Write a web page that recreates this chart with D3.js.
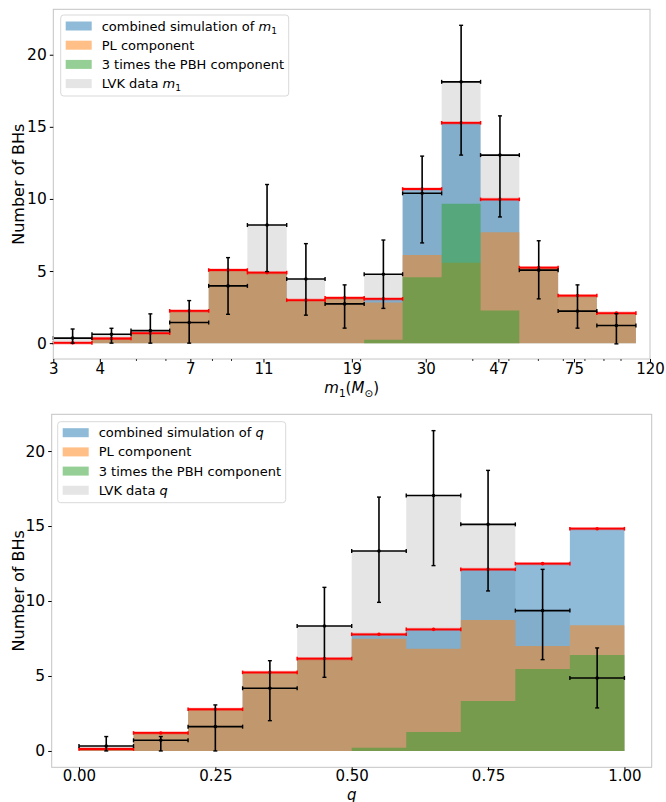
<!DOCTYPE html>
<html>
<head>
<meta charset="utf-8">
<script src="https://cdn.jsdelivr.net/npm/d3@7/dist/d3.min.js"></script>
<style>
  body { margin: 0; background: #fff; }
  svg { font-family: "DejaVu Sans", sans-serif; }
</style>
</head>
<body>
<div id="chart"></div>
<script>
// ---- data ----
// top panel: primary mass m1, log-spaced bins
var m1Edges = [3, 3.81, 4.85, 6.16, 7.84, 9.96, 12.7, 16.1, 20.5, 26.0, 33.1, 42.1, 53.5, 68.0, 86.4, 110];
var m1Ticks = [3, 4, 7, 11, 19, 30, 47, 75, 120];
var m1Minor = [5, 6, 8, 9, 20, 40, 50, 60, 70, 80, 90, 100];
var m1Lvk   = [0.35, 0.62, 0.87, 1.43, 3.97, 8.19, 4.45, 2.72, 4.78, 10.39, 18.12, 13.04, 5.06, 2.22, 1.22];
var m1LvkLo = [0, 0, 0, 0, 2.0, 4.96, 1.94, 1.04, 2.41, 6.95, 13.04, 8.75, 3.07, 1.04, -0.05];
var m1LvkHi = [0.98, 1.03, 2.03, 2.95, 5.93, 11.0, 6.9, 4.04, 7.15, 12.97, 22.04, 15.76, 7.1, 4.04, 2.05];
var m1Comb  = [0.02, 0.32, 0.69, 2.24, 5.07, 4.89, 2.98, 3.14, 3.07, 10.69, 15.28, 9.97, 5.24, 3.3, 2.08];
var m1Pl    = [0.02, 0.32, 0.69, 2.24, 5.07, 4.89, 2.98, 3.14, 2.81, 6.11, 5.58, 7.69, 5.24, 3.3, 2.08];
var m1Pbh3  = [0, 0, 0, 0, 0, 0, 0, 0, 0.23, 4.57, 9.67, 2.26, 0, 0, 0];

// bottom panel: mass ratio q
var qEdges = [0, 0.1, 0.2, 0.3, 0.4, 0.5, 0.6, 0.7, 0.8, 0.9, 1.0];
var qTicks = [0, 0.25, 0.5, 0.75, 1.0];
var qLvk   = [0.33, 0.71, 1.62, 4.18, 8.33, 13.33, 17.04, 15.11, 9.36, 4.87];
var qLvkLo = [0, 0, 0, 2.02, 4.91, 9.91, 12.36, 10.67, 6.09, 2.87];
var qLvkHi = [0.96, 0.96, 3.07, 6.02, 10.91, 16.93, 21.36, 18.71, 12.11, 6.87];
var qComb  = [0.13, 1.2, 2.78, 5.24, 6.16, 7.78, 8.11, 12.11, 12.49, 14.82];
var qPl    = [0.13, 1.2, 2.78, 5.24, 6.16, 7.49, 6.82, 8.73, 7.0, 8.38];
var qPbh3  = [0, 0, 0, 0, 0, 0.22, 1.27, 3.33, 5.47, 6.4];

var yTicks = [0, 5, 10, 15, 20];

// ---- svg ----
var width = 666, height = 802;
var svg = d3.select("#chart").append("svg")
    .attr("width", width)
    .attr("height", height);

function drawPanel(o) {
  var g = svg.append("g");
  var x = o.x, y = o.y;
  var x0 = x.range()[0], x1 = x.range()[1];
  var yb = y.range()[0], yt = y.range()[1];
  var n = o.lvk.length;

  // step areas (one path per series, so adjacent bins have no seams)
  function stepArea(vals) {
    var pts = o.edges.map(function(e, i) { return {x: e, v: vals[Math.min(i, n - 1)]}; });
    return d3.area()
      .x(function(d) { return x(d.x); })
      .y0(y(0))
      .y1(function(d) { return y(d.v); })
      .curve(d3.curveStepAfter)(pts);
  }
  g.append("path").attr("d", stepArea(o.lvk)).attr("fill", "#d3d3d3").attr("fill-opacity", 0.6);
  g.append("path").attr("d", stepArea(o.comb)).attr("fill", "#1f77b4").attr("fill-opacity", 0.5);
  g.append("path").attr("d", stepArea(o.pl)).attr("fill", "#ff7f0e").attr("fill-opacity", 0.5);
  g.append("path").attr("d", stepArea(o.pbh)).attr("fill", "#2ca02c").attr("fill-opacity", 0.5);

  var bins = d3.range(n).map(function(i) {
    return {a: o.edges[i], b: o.edges[i + 1], c: o.center(o.edges[i], o.edges[i + 1]),
            lvk: o.lvk[i], lo: o.lvkLo[i], hi: o.lvkHi[i], comb: o.comb[i]};
  });

  // red: combined simulation with bin-width bars
  var red = g.append("g").attr("stroke", "red").attr("fill", "red");
  bins.forEach(function(d) {
    red.append("line").attr("x1", x(d.a)).attr("x2", x(d.b))
      .attr("y1", y(d.comb)).attr("y2", y(d.comb)).attr("stroke-width", 3.2).attr("stroke-opacity", 0.3);
    red.append("line").attr("x1", x(d.a)).attr("x2", x(d.b))
      .attr("y1", y(d.comb)).attr("y2", y(d.comb)).attr("stroke-width", 1.8);
    [d.a, d.b].forEach(function(e) {
      red.append("line").attr("x1", x(e)).attr("x2", x(e))
        .attr("y1", y(d.comb) - 1.8).attr("y2", y(d.comb) + 1.8).attr("stroke-width", 1.5);
    });
    red.append("circle").attr("cx", x(d.c)).attr("cy", y(d.comb)).attr("r", 1.8).attr("stroke", "none");
  });

  // black: LVK data points with error bars
  var blk = g.append("g").attr("stroke", "black").attr("fill", "black");
  bins.forEach(function(d) {
    blk.append("line").attr("x1", x(d.a)).attr("x2", x(d.b))
      .attr("y1", y(d.lvk)).attr("y2", y(d.lvk)).attr("stroke-width", 1.6);
    blk.append("line").attr("x1", x(d.c)).attr("x2", x(d.c))
      .attr("y1", y(d.lo)).attr("y2", y(d.hi)).attr("stroke-width", 1.6);
    [d.a, d.b].forEach(function(e) {
      blk.append("line").attr("x1", x(e)).attr("x2", x(e))
        .attr("y1", y(d.lvk) - 2).attr("y2", y(d.lvk) + 2).attr("stroke-width", 1.4);
    });
    [d.lo, d.hi].forEach(function(v) {
      blk.append("line").attr("x1", x(d.c) - 2).attr("x2", x(d.c) + 2)
        .attr("y1", y(v)).attr("y2", y(v)).attr("stroke-width", 1.4);
    });
    blk.append("circle").attr("cx", x(d.c)).attr("cy", y(d.lvk)).attr("r", 1.8).attr("stroke", "none");
  });

  // frame
  g.append("rect").attr("x", x0).attr("y", yt).attr("width", x1 - x0).attr("height", yb - yt)
    .attr("fill", "none").attr("stroke", "#c4c4c4").attr("stroke-width", 1);

  // axes
  var ya = g.append("g").attr("transform", "translate(" + x0 + ",0)")
    .call(d3.axisLeft(y).tickValues(yTicks).tickSize(3.5).tickPadding(3).tickFormat(d3.format("d")));
  ya.select(".domain").remove();
  ya.selectAll("text").attr("font-size", 15.5).attr("fill", "#000").attr("font-family", "DejaVu Sans");
  ya.selectAll("line").attr("stroke", "#000");

  var xa = g.append("g").attr("transform", "translate(0," + yb + ")")
    .call(d3.axisBottom(x).tickValues(o.ticks).tickSize(3.5).tickPadding(o.xPad).tickFormat(o.fmt));
  xa.select(".domain").remove();
  xa.selectAll("text").attr("font-size", 15).attr("fill", "#000").attr("font-family", "DejaVu Sans");
  xa.selectAll("line").attr("stroke", "#000");
  if (o.minor) {
    var xm = g.append("g").attr("transform", "translate(0," + yb + ")")
      .call(d3.axisBottom(x).tickValues(o.minor).tickSize(2).tickFormat(""));
    xm.select(".domain").remove();
    xm.selectAll("line").attr("stroke", "#000").attr("stroke-width", 0.8);
  }

  // y label
  g.append("text")
    .attr("transform", "translate(" + 24 + "," + ((yb + yt) / 2) + ") rotate(-90)")
    .attr("text-anchor", "middle").attr("font-size", 16).text("Number of BHs");

  // x label
  var xl = g.append("text").attr("x", (x0 + x1) / 2).attr("y", o.xlabelY)
    .attr("text-anchor", "middle").attr("font-size", 15);
  o.xlabel(xl);

  // legend
  var lg = g.append("g").attr("transform", "translate(" + o.legX + "," + o.legY + ")");
  lg.append("rect").attr("width", 228).attr("height", 81).attr("rx", 3)
    .attr("fill", "#fff").attr("fill-opacity", 0.8).attr("stroke", "#d9d9d9");
  var entries = [
    {color: "#1f77b4", op: 0.5, label: function(t) { t.append("tspan").text("combined simulation of "); o.varName(t, 13); }},
    {color: "#ff7f0e", op: 0.5, label: function(t) { t.text("PL component"); }},
    {color: "#2ca02c", op: 0.5, label: function(t) { t.text("3 times the PBH component"); }},
    {color: "#d3d3d3", op: 0.6, label: function(t) { t.append("tspan").text("LVK data "); o.varName(t, 13); }}
  ];
  entries.forEach(function(e, i) {
    var cy = 11 + i * 19.2;
    lg.append("rect").attr("x", 5).attr("y", cy - 4.5).attr("width", 26).attr("height", 9)
      .attr("fill", e.color).attr("fill-opacity", e.op);
    var t = lg.append("text").attr("x", 41).attr("y", cy + 4.6).attr("font-size", 13);
    e.label(t);
  });
}

function m1Name(t, fs) {
  t.append("tspan").attr("font-style", "italic").text("m");
  t.append("tspan").attr("font-size", fs * 0.7).attr("dy", fs * 0.25).text("1");
}

drawPanel({
  x: d3.scaleLog().domain([3, 120]).range([53.3, 650]),
  y: d3.scaleLinear().domain([-1.1, 23.15]).range([359, 9.3]),
  edges: m1Edges, lvk: m1Lvk, lvkLo: m1LvkLo, lvkHi: m1LvkHi,
  comb: m1Comb, pl: m1Pl, pbh: m1Pbh3,
  center: function(a, b) { return Math.sqrt(a * b); },
  ticks: m1Ticks, minor: m1Minor, fmt: d3.format("d"), xPad: 1,
  legX: 60.7, legY: 15,
  varName: m1Name,
  xlabelY: 393,
  xlabel: function(t) {
    t.append("tspan").attr("font-style", "italic").text("m");
    t.append("tspan").attr("font-size", 10.5).attr("dy", 3.5).text("1");
    t.append("tspan").attr("dy", -3.5).text("(");
    t.append("tspan").attr("font-style", "italic").text("M");
    t.append("tspan").attr("font-size", 10.5).attr("dy", 3.5).text("⊙");
    t.append("tspan").attr("dy", -3.5).text(")");
  }
});

drawPanel({
  x: d3.scaleLinear().domain([-0.05, 1.05]).range([51.7, 651.7]),
  y: d3.scaleLinear().domain([-1.09, 22.45]).range([767.3, 414.3]),
  edges: qEdges, lvk: qLvk, lvkLo: qLvkLo, lvkHi: qLvkHi,
  comb: qComb, pl: qPl, pbh: qPbh3,
  center: function(a, b) { return (a + b) / 2; },
  ticks: qTicks, minor: null, fmt: d3.format(".2f"), xPad: 0,
  legX: 57.7, legY: 421.7,
  varName: function(t) { t.append("tspan").attr("font-style", "italic").text("q"); },
  xlabelY: 799.5,
  xlabel: function(t) { t.append("tspan").attr("font-style", "italic").text("q"); }
});
</script>
</body>
</html>
